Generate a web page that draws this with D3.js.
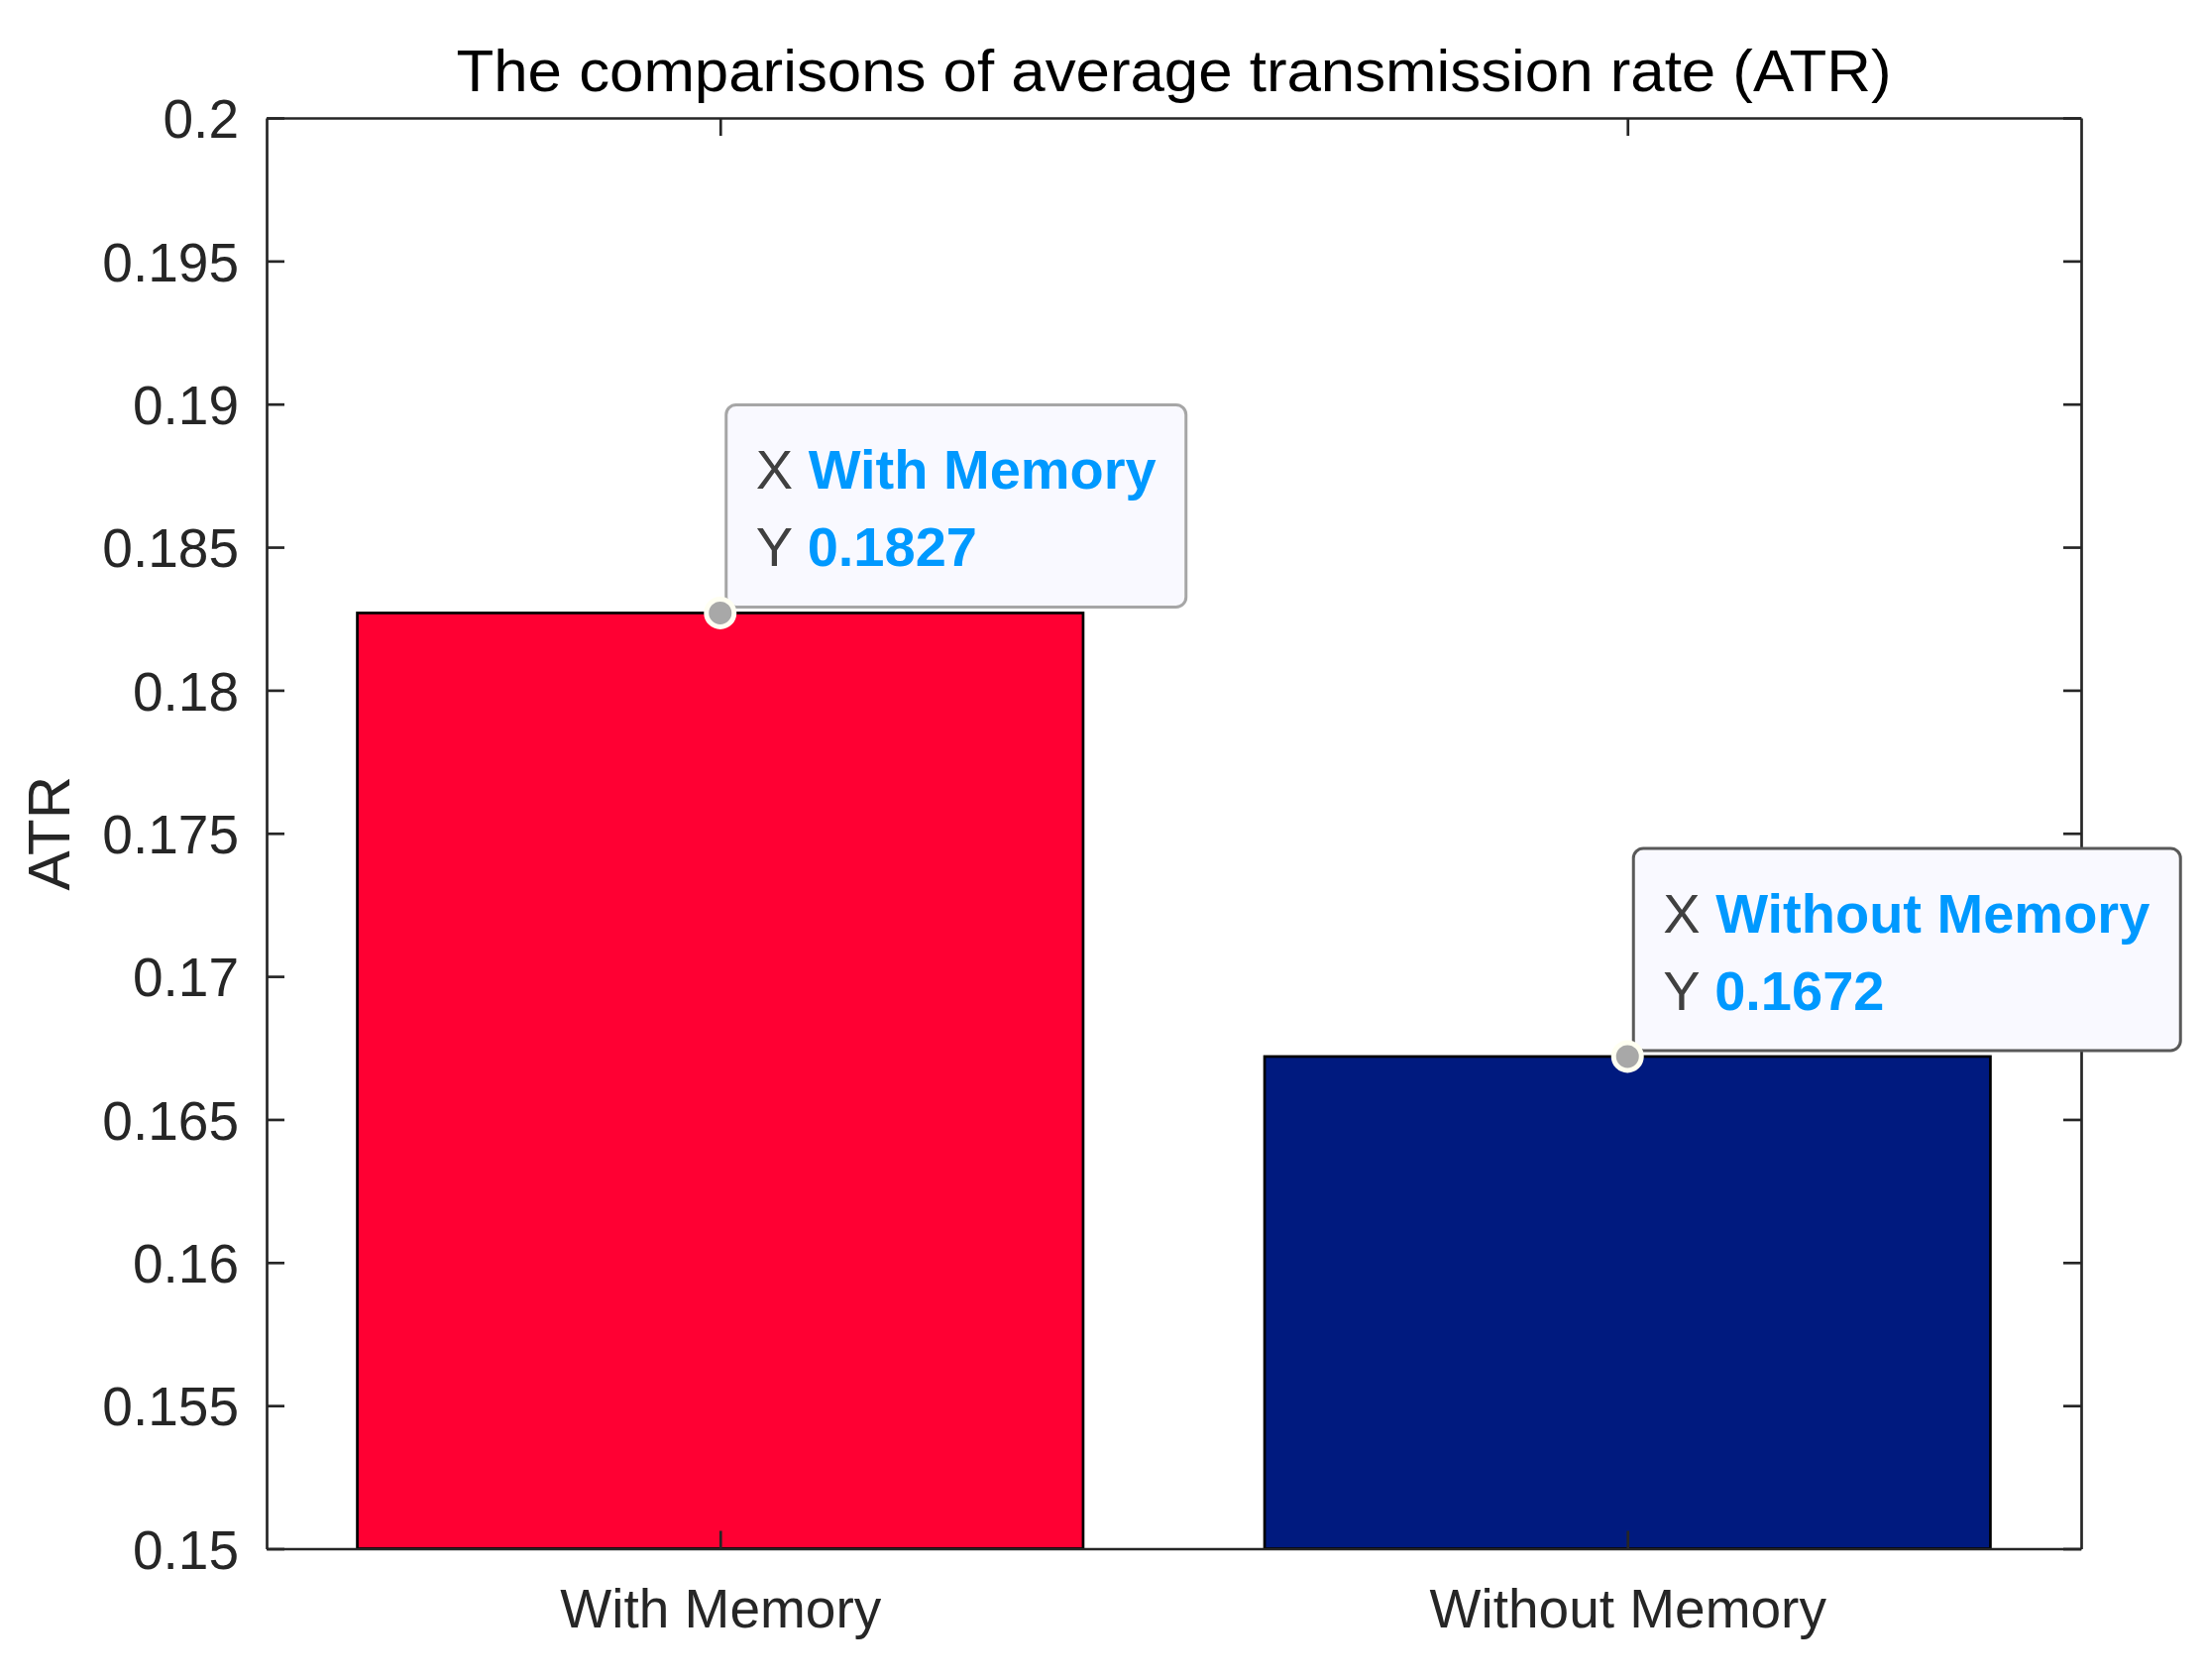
<!DOCTYPE html>
<html><head><meta charset="utf-8">
<script src="https://cdn.jsdelivr.net/npm/d3@7"></script>
<style>body{margin:0;background:#fff}svg{display:block}text{font-family:"Liberation Sans",Arial,sans-serif}</style>
</head><body>
<script>
const categories = ["With Memory", "Without Memory"];
const values = [0.1827, 0.1672];
const barColors = ["#FF0033", "#001A7F"];
const yTicks = [0.15,0.155,0.16,0.165,0.17,0.175,0.18,0.185,0.19,0.195,0.2];
const yTickLabels = ["0.15","0.155","0.16","0.165","0.17","0.175","0.18","0.185","0.19","0.195","0.2"];
const tipValues = ["0.1827", "0.1672"];

const W = 2226, H = 1695;
const m = {left: 269, right: 2100, top: 119, bottom: 1562.5};
const svg = d3.select("body").append("svg").attr("width", W).attr("height", H);

const x = d3.scaleLinear().domain([0.5, 2.5]).range([m.left, m.right]);
const y = d3.scaleLinear().domain([0.15, 0.2]).range([m.bottom, m.top]);
const ink = "#262626";

// bars
svg.selectAll("rect.bar").data(values).enter().append("rect")
  .attr("class","bar")
  .attr("x",(d,i)=>x(i+1-0.4)).attr("width",(d,i)=>x(i+1+0.4)-x(i+1-0.4))
  .attr("y",d=>y(d)).attr("height",d=>y(0.15)-y(d))
  .attr("fill",(d,i)=>barColors[i]).attr("stroke","#000").attr("stroke-width",2.7);

// axes
const tl = 18;
const axL = svg.append("g").attr("transform",`translate(${m.left},0)`)
  .call(d3.axisLeft(y).tickValues(yTicks).tickFormat((d,i)=>yTickLabels[i]).tickSizeInner(-tl).tickSizeOuter(0).tickPadding(28));
const axR = svg.append("g").attr("transform",`translate(${m.right},0)`)
  .call(d3.axisRight(y).tickValues(yTicks).tickFormat("").tickSizeInner(-tl).tickSizeOuter(0));
const axB = svg.append("g").attr("transform",`translate(0,${m.bottom})`)
  .call(d3.axisBottom(x).tickValues([1,2]).tickFormat((d)=>categories[d-1]).tickSizeInner(-tl).tickSizeOuter(0).tickPadding(40));
const axT = svg.append("g").attr("transform",`translate(0,${m.top})`)
  .call(d3.axisTop(x).tickValues([1,2]).tickFormat("").tickSizeInner(-tl).tickSizeOuter(0));
[axL,axR,axB,axT].forEach(g=>{
  g.selectAll("path.domain").attr("stroke",ink).attr("stroke-width",2.7);
  g.selectAll(".tick line").attr("stroke",ink).attr("stroke-width",2.7);
  g.selectAll("text").attr("fill",ink).style("font-size","55px").style("font-family","Liberation Sans, Arial, sans-serif");
});
axL.selectAll("text").attr("dy","0.36em");
axB.selectAll("text").attr("dy","0.72em");

// title
svg.append("text").attr("x",(m.left+m.right)/2).attr("y",91.5).attr("text-anchor","middle")
  .attr("fill","#000").style("font-size","60px")
  .attr("textLength",1448).attr("lengthAdjust","spacingAndGlyphs")
  .text("The comparisons of average transmission rate (ATR)");
// y label
svg.append("text").attr("transform",`translate(70,${(m.top+m.bottom)/2}) rotate(-90)`).attr("text-anchor","middle")
  .attr("fill",ink).style("font-size","60px").text("ATR");

// datatips
const tipW = [464, 552], tipH = 204;
const tipBorder = ["#A6A6A6", "#595959"];
values.forEach((v,i)=>{
  const px = x(i+1), py = y(v);
  const bx = px+6, by = py-6-tipH;
  const g = svg.append("g");
  g.append("rect").attr("x",bx).attr("y",by).attr("width",tipW[i]).attr("height",tipH)
    .attr("rx",10).attr("ry",10).attr("fill","#F9F9FF").attr("stroke",tipBorder[i]).attr("stroke-width",3);
  const t1 = g.append("text").attr("x",bx+30).attr("y",by+85).style("font-size","56px");
  t1.append("tspan").attr("fill","#404040").text("X ");
  t1.append("tspan").attr("fill","#0099FF").attr("font-weight","bold").text(categories[i]);
  const t2 = g.append("text").attr("x",bx+30).attr("y",by+163).style("font-size","56px");
  t2.append("tspan").attr("fill","#404040").text("Y ");
  t2.append("tspan").attr("fill","#0099FF").attr("font-weight","bold").text(tipValues[i]);
  g.append("circle").attr("cx",px).attr("cy",py).attr("r",14).attr("fill","#A8A8A8")
    .attr("stroke","#FFFFF2").attr("stroke-width",5);
});
</script>
</body></html>
